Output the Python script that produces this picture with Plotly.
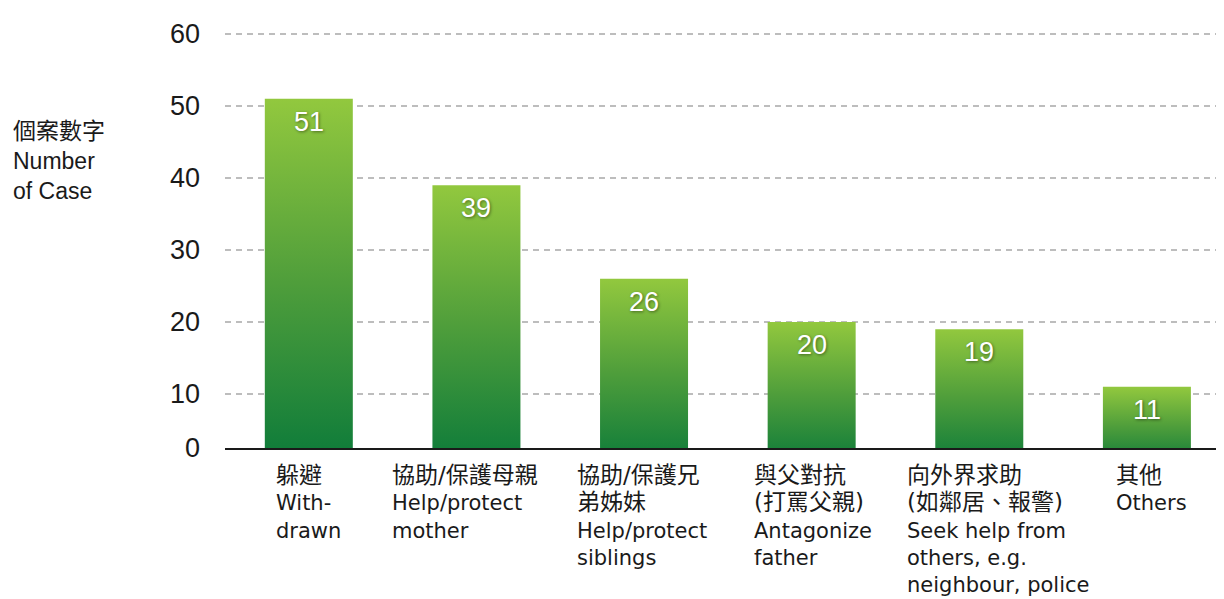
import plotly.graph_objects as go

# data
categories_zh = ["躲避", "協助/保護母親", "協助/保護兄<br>弟姊妹", "與父對抗<br>(打罵父親)",
                 "向外界求助<br>(如鄰居、報警)", "其他"]
categories_en = ["With-<br>drawn", "Help/protect<br>mother", "Help/protect<br>siblings",
                 "Antagonize<br>father", "Seek help from<br>others, e.g.<br>neighbour, police",
                 "Others"]
cases = [51, 39, 26, 20, 19, 11]
y_ticks = [0, 10, 20, 30, 40, 50, 60]

# the reference draws its "0" label at the axis line, which sits a little above zero
axis_floor = 2.5
bar_width = 0.525
green_scale = [[0.0, "#0b7a3a"], [0.5, "#4f9e3b"], [1.0, "#92c83e"]]
# the labels under the bars are not set exactly under the bar centres
label_nudge = [0, -11, -2, 1, 19, 5]

fig = go.Figure()

for i, v in enumerate(cases):
    x0, x1 = i - bar_width / 2, i + bar_width / 2
    fig.add_trace(
        go.Scatter(
            x=[x0, x0, x1, x1, x0],
            y=[0, v, v, 0, 0],
            mode="lines",
            line=dict(width=0),
            fill="toself",
            fillgradient=dict(type="vertical", colorscale=green_scale),
            hoverinfo="text",
            text=f"{v}",
            showlegend=False,
        )
    )
    fig.add_annotation(
        x=i, y=v, xref="x", yref="y",
        text=str(v), showarrow=False,
        yanchor="top", yshift=-6,
        font=dict(family="Liberation Sans, Arial", size=27, color="white",
                  shadow="1px 1px 3px rgba(0,0,0,0.45)"),
    )
    fig.add_annotation(
        x=i, y=0, xref="x", yref="paper",
        text=f"<span style='font-size:23px'>{categories_zh[i]}</span><br>{categories_en[i]}",
        showarrow=False, align="left",
        xanchor="center", yanchor="top", yshift=-12, xshift=label_nudge[i],
        font=dict(family="DejaVu Sans, Noto Sans CJK TC", size=21, color="#1a1a1a"),
    )

fig.add_annotation(
    x=0, y=1, xref="paper", yref="paper",
    xanchor="left", yanchor="top", xshift=-214, yshift=-80,
    text="<span style='font-family:Noto Sans CJK TC'>個案數字</span><br>Number<br>of Case",
    showarrow=False, align="left",
    font=dict(family="Liberation Sans, Arial", size=23, color="#1a1a1a"),
)

fig.update_layout(
    width=1216,
    height=591,
    paper_bgcolor="white",
    plot_bgcolor="white",
    margin=dict(l=217, r=0, t=22, b=151),
    showlegend=False,
    xaxis=dict(
        range=[-0.5, 5.46],
        showgrid=False, zeroline=False, showticklabels=False,
        showline=True, linecolor="#1a1a1a", linewidth=2,
        fixedrange=True,
    ),
    yaxis=dict(
        range=[axis_floor, 60.56],
        tickvals=[axis_floor] + y_ticks[1:],
        ticktext=[str(t) for t in y_ticks],
        tickfont=dict(family="Liberation Sans, Arial", size=27, color="#1a1a1a"),
        ticklabelstandoff=24,
        showgrid=True, gridcolor="#bdbdbd", gridwidth=1.5, griddash="6px,5px",
        zeroline=False, showline=False,
        fixedrange=True,
    ),
)

fig.write_html("out.html")
